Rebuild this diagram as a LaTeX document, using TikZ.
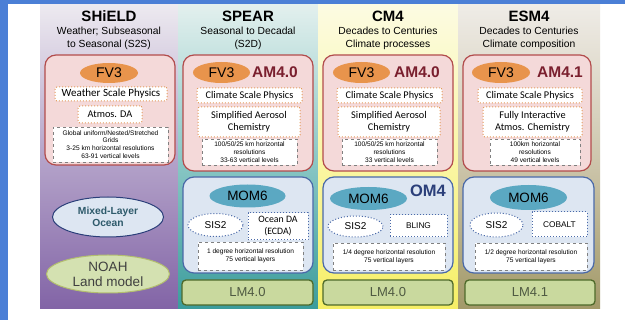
\documentclass[tikz,border=0pt]{standalone}
\usepackage{fontspec}
\setmainfont{Liberation Sans}
\newfontfamily\calib{Carlito}
\usetikzlibrary{shapes.geometric}
\definecolor{slideblue}{HTML}{4B7FD6}
\definecolor{shieldtop}{HTML}{EDEAF0}
\definecolor{shieldmid}{HTML}{B5A4CA}
\definecolor{shieldbot}{HTML}{8264A6}
\definecolor{speartop}{HTML}{E3F0EE}
\definecolor{spearmid}{HTML}{8CC8C6}
\definecolor{spearbot}{HTML}{3B9C9C}
\definecolor{cmtop}{HTML}{FCFBE2}
\definecolor{cmmid}{HTML}{FAF6A6}
\definecolor{cmbot}{HTML}{F6EF66}
\definecolor{esmtop}{HTML}{EFECE7}
\definecolor{esmmid}{HTML}{CEC7AE}
\definecolor{esmbot}{HTML}{A29968}
\definecolor{atmfill}{HTML}{F4D9D9}
\definecolor{atmline}{HTML}{B24C4C}
\definecolor{ocnfill}{HTML}{DDE6F2}
\definecolor{ocnline}{HTML}{4A69A8}
\definecolor{fvorange}{HTML}{E8944C}
\definecolor{momteal}{HTML}{5BA8C2}
\definecolor{dotorange}{HTML}{E39A5C}
\definecolor{lmfill}{HTML}{C9D99E}
\definecolor{lmline}{HTML}{4E6A2A}
\definecolor{lmtext}{HTML}{4F5A42}
\definecolor{amred}{HTML}{7A1F2E}
\definecolor{omblue}{HTML}{2B3F7A}
\definecolor{mltext}{HTML}{2E5A6B}
\begin{document}
\begin{tikzpicture}[x=1pt,y=-1pt,every node/.style={inner sep=0pt,align=center}]
\tikzset{colbg/.style={minimum width=140pt,minimum height=305pt},
  ttl/.style={font=\fontsize{15}{18}\selectfont\bfseries},
  subttl/.style={font=\fontsize{10.3}{13}\selectfont},
  atmbox/.style={draw=atmline,fill=atmfill,line width=1.2pt,rounded corners=11pt,minimum width=130pt,minimum height=116pt},
  ocnbox/.style={draw=ocnline,fill=ocnfill,line width=1.2pt,rounded corners=11pt,minimum width=130pt,minimum height=96pt},
  fvell/.style={ellipse,fill=fvorange,minimum width=57pt,minimum height=21pt,font=\fontsize{14}{16}\selectfont},
  amlbl/.style={font=\fontsize{15.5}{18}\selectfont\bfseries,text=amred},
  physbox/.style={draw=dotorange,fill=white,dotted,line width=1pt,rounded corners=2pt,font=\calib\fontsize{10.3}{12.5}\selectfont},
  resbox/.style={draw=gray,fill=white,dashed,line width=0.6pt,font=\fontsize{6.6}{7.8}\selectfont},
  momell/.style={ellipse,fill=momteal,minimum width=76pt,minimum height=23pt,font=\fontsize{13.5}{16}\selectfont},
  iceell/.style={ellipse,draw=ocnline,fill=white,dotted,line width=1pt,minimum width=55pt,minimum height=23pt,font=\fontsize{10}{12}\selectfont},
  bgcbox/.style={draw=ocnline,fill=white,dotted,line width=1pt,minimum height=25pt},
  lmbox/.style={draw=lmline,fill=lmfill,line width=1.3pt,rounded corners=4pt,minimum width=130pt,minimum height=25pt,font=\fontsize{13}{15}\selectfont,text=lmtext}}
\useasboundingbox (0,0) rectangle (625,320);
\fill[white] (0,0) rectangle (625,320);
% column backgrounds
\node[colbg,minimum width=138pt,top color=shieldtop,bottom color=shieldbot,middle color=shieldmid] (shieldcol) at (109,156.5) {};
\node[colbg,top color=speartop,bottom color=spearbot,middle color=spearmid] (spearcol) at (248,156.5) {};
\node[colbg,top color=cmtop,bottom color=cmbot,middle color=cmmid] (cmcol) at (388,156.5) {};
\node[colbg,minimum width=142pt,top color=esmtop,bottom color=esmbot,middle color=esmmid] (esmcol) at (529,156.5) {};
\fill[slideblue] (0,0) rectangle (8,320);
\fill[slideblue] (0,0) rectangle (625,4);
% SHiELD
\node[ttl] (shieldttl) at (109,16) {SHiELD};
\node[subttl] (shieldsub) at (109,38.5) {Weather; Subseasonal\\to Seasonal (S2S)};
\node[atmbox,minimum height=110pt] (shieldatm) at (110,110) {};
\node[fvell,minimum width=58pt,minimum height=20pt] (shieldfv) at (109,73) {FV3};
\node[physbox,minimum width=112pt,minimum height=14pt,font=\calib\fontsize{11}{13}\selectfont] (shieldphys) at (111,94) {Weather Scale Physics};
\node[physbox,minimum width=64pt,minimum height=17pt] (shieldda) at (110,114.5) {Atmos. DA};
\node[resbox,minimum width=115pt,minimum height=35pt] (shieldres) at (110.5,144.5) {Global uniform/Nested/Stretched\\Grids\\3-25 km horizontal resolutions\\63-91 vertical levels};
\node[ellipse,draw=omblue,fill=ocnfill,line width=1pt,minimum width=111pt,minimum height=40pt,font=\fontsize{10.3}{12.5}\selectfont\bfseries,text=mltext] (mlocean) at (108,217) {Mixed-Layer\\Ocean};
\node[ellipse,draw=lmfill!70!olive,fill=lmfill!80!white,line width=1pt,minimum width=123pt,minimum height=38pt,font=\fontsize{13.5}{15}\selectfont,text=black!75] (noah) at (108,274) {NOAH\\Land model};
% SPEAR
\node[ttl] (spearttl) at (248,16) {SPEAR};
\node[subttl] (spearsub) at (248,38.5) {Seasonal to Decadal\\(S2D)};
\node[atmbox] (spearatm) at (248,113) {};
\node[fvell] (spearfv) at (221.5,72.5) {FV3};
\node[amlbl] (spearam) at (275,72) {AM4.0};
\node[physbox,minimum width=105pt,minimum height=15pt] (spearphys) at (249.5,95.5) {Climate Scale Physics};
\node[physbox,minimum width=102pt,minimum height=30pt] (spearaer) at (249,122) {Simplified Aerosol\\Chemistry};
\node[resbox,minimum width=95pt,minimum height=26pt] (spearres) at (249.5,152) {100/50/25 km horizontal\\resolutions\\33-63 vertical levels};
\node[ocnbox] (spearocn) at (248,225) {};
\node[momell] (spearmom) at (247.5,196) {MOM6};
\node[iceell] (spearsis) at (215.5,225) {SIS2};
\node[bgcbox,minimum width=60pt,minimum height=27pt,font=\calib\fontsize{9.8}{12}\selectfont] (spearda) at (278,226.5) {Ocean DA\\(ECDA)};
\node[resbox,minimum width=105pt,minimum height=28pt] (spearores) at (250.5,256) {1 degree horizontal resolution\\75 vertical layers};
\node[lmbox,minimum width=131pt] (spearlm) at (247.5,292.5) {LM4.0};
% CM4
\node[ttl] (cmttl) at (388,16) {CM4};
\node[subttl] (cmsub) at (388,38.5) {Decades to Centuries\\Climate processes};
\node[atmbox] (cmatm) at (388,113) {};
\node[fvell] (cmfv) at (361.5,72.5) {FV3};
\node[amlbl] (cmam) at (417,72) {AM4.0};
\node[physbox,minimum width=105pt,minimum height=15pt] (cmphys) at (389.5,95.5) {Climate Scale Physics};
\node[physbox,minimum width=102pt,minimum height=30pt] (cmaer) at (389,122) {Simplified Aerosol\\Chemistry};
\node[resbox,minimum width=95pt,minimum height=26pt] (cmres) at (389.5,152) {100/50/25 km horizontal\\resolutions\\33 vertical levels};
\node[ocnbox] (cmocn) at (388,225) {};
\node[momell,minimum width=77pt] (cmmom) at (368.5,198.5) {MOM6};
\node[font=\fontsize{16.5}{18}\selectfont\bfseries,text=omblue] (cmom) at (428,191) {OM4};
\node[iceell,minimum height=21pt] (cmsis) at (355.5,226.5) {SIS2};
\node[bgcbox,minimum width=57pt,minimum height=22pt,font=\fontsize{8.3}{10}\selectfont] (cmbling) at (418.5,226) {BLING};
\node[resbox,minimum width=112pt,minimum height=27pt] (cmores) at (389,256.5) {1/4 degree horizontal resolution\\75 vertical layers};
\node[lmbox] (cmlm) at (388,292.5) {LM4.0};
% ESM4
\node[ttl] (esmttl) at (529,16) {ESM4};
\node[subttl] (esmsub) at (529,38.5) {Decades to Centuries\\Climate composition};
\node[atmbox,minimum width=128pt] (esmatm) at (527,113) {};
\node[fvell,minimum width=58pt] (esmfv) at (501,72.5) {FV3};
\node[amlbl] (esmam) at (560,72) {AM4.1};
\node[physbox,minimum width=104pt,minimum height=15pt] (esmphys) at (530,95.5) {Climate Scale Physics};
\node[physbox,minimum width=99pt,minimum height=30pt] (esmchem) at (532.5,122) {Fully Interactive\\Atmos. Chemistry};
\node[resbox,minimum width=90pt,minimum height=26pt] (esmres) at (535,152) {100km horizontal\\resolutions\\49 vertical levels};
\node[ocnbox,minimum width=131pt] (esmocn) at (528.5,225) {};
\node[momell,minimum width=77pt,minimum height=25pt] (esmmom) at (528.5,197.5) {MOM6};
\node[iceell,minimum width=53pt,minimum height=24pt] (esmsis) at (496.5,225) {SIS2};
\node[bgcbox,minimum width=55pt,font=\fontsize{8.3}{10}\selectfont] (esmcob) at (559.5,224.5) {COBALT};
\node[resbox,minimum width=112pt,minimum height=27pt] (esmores) at (531,256.5) {1/2 degree horizontal resolution\\75 vertical layers};
\node[lmbox] (esmlm) at (530,292.5) {LM4.1};
\end{tikzpicture}
\end{document}
